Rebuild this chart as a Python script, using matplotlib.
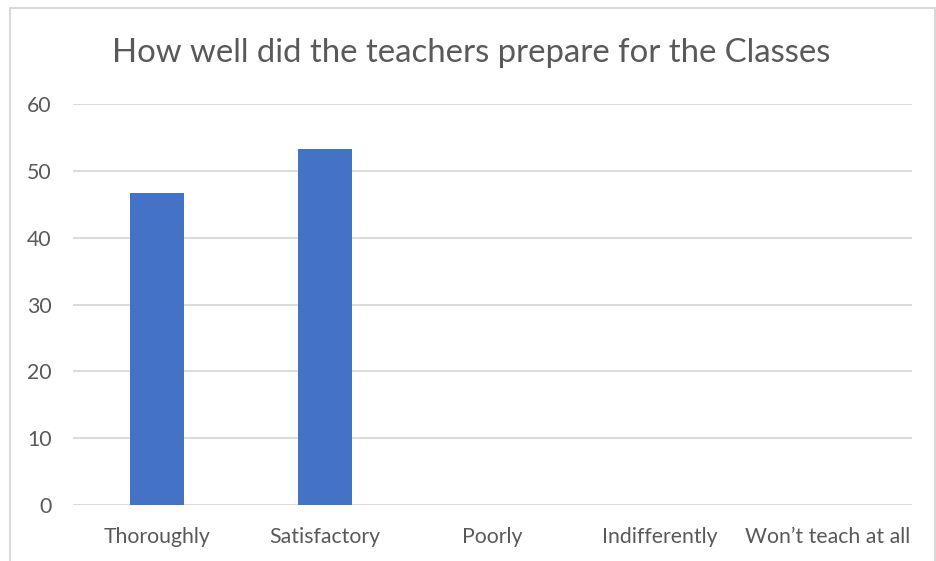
import matplotlib.pyplot as plt
from matplotlib.patches import Rectangle

categorias = ['Thoroughly', 'Satisfactory', 'Poorly', 'Indifferently', 'Won\u2019t teach at all']
valores = [46.67, 53.33, 0, 0, 0]

plt.rcParams['font.family'] = ['Lato', 'DejaVu Sans']

fig = plt.figure(figsize=(9.37, 5.61), dpi=100)
ax = fig.add_axes([0.0779, 0.0998, 0.8954, 0.7148])

# borda do grafico
fig.patches.append(Rectangle((10 / 937, -0.05), 925 / 937, 1.05 - 8 / 561,
                             transform=fig.transFigure, fill=False,
                             edgecolor='#D9D9D9', linewidth=1.5))

ax.bar(range(len(categorias)), valores, width=0.32, color='#4472C4', zorder=3)

ax.set_xlim(-0.5, len(categorias) - 0.5)
ax.set_ylim(0, 60)
ax.set_yticks(range(0, 61, 10))
ax.set_xticks(range(len(categorias)))
ax.set_xticklabels(categorias)
ax.grid(axis='y', color='#D9D9D9', linewidth=1.3, zorder=0)
for s in ax.spines.values():
    s.set_visible(False)
ax.tick_params(length=0, labelsize=15.3, colors='#595959')
ax.tick_params(axis='x', pad=16)
ax.tick_params(axis='y', pad=15.5)

fig.text(0.503, 0.905, 'How well did the teachers prepare for the Classes',
         ha='center', va='center', fontsize=23.7, color='#595959')

fig.savefig('out.png', dpi=100)
